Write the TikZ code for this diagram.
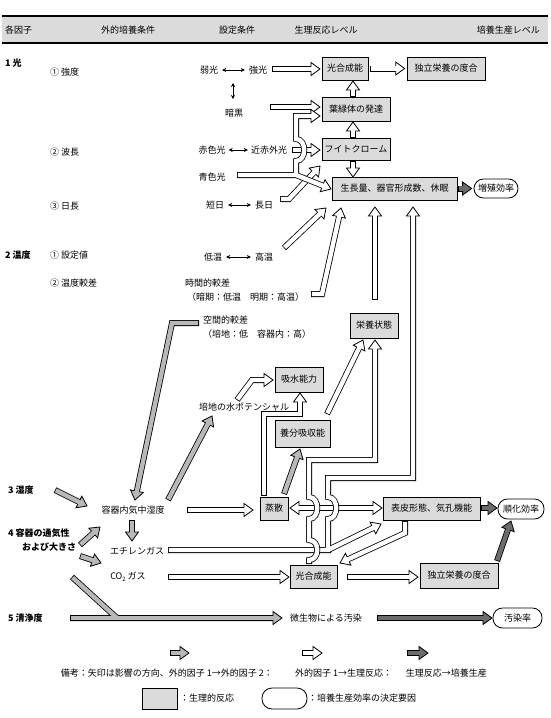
\documentclass[tikz,border=0pt]{standalone}
\usepackage{fontspec}
\newfontfamily\jp{Noto Sans CJK JP}
\usetikzlibrary{calc,arrows.meta}
\definecolor{boxgray}{gray}{0.86}
\definecolor{agray}{gray}{0.72}
\definecolor{adark}{gray}{0.42}
\tikzset{
  bo/.style={line width=6pt, draw=black, line join=miter, line cap=butt},
  bi/.style={line width=4.4pt, line join=miter, line cap=butt},
  pbox/.style={draw, line width=0.7pt, fill=boxgray, minimum height=23pt},
  stad/.style={draw, line width=0.8pt, fill=white, minimum height=20pt, rounded corners=9.5pt},
  lbl/.style={anchor=west},
  blab/.style={anchor=west, font=\jp\bfseries\fontsize{9}{11}\selectfont},
  ta/.style={line width=0.6pt, {Stealth[length=4pt,width=4pt]}-{Stealth[length=4pt,width=4pt]}},
}
\newcommand\hc[3]{%
  \coordinate (#3B) at ($#2!9pt!#1$);
  \coordinate (#3I) at ($(#3B)!1.2pt!#2$);
  \coordinate (#3L) at ($(#3B)!6.5pt!90:#2$);
  \coordinate (#3R) at ($(#3B)!6.5pt!-90:#2$);}
\newcommand\hd[3]{\filldraw[fill=#1,draw=black,line width=0.8pt,line join=miter] (#3L) -- #2 -- (#3R) -- cycle;}
\newcommand\barr[4][white]{%
  \hc{#3}{#4}{q}%
  \draw[bo] #2 -- (qB);
  \hd{#1}{#4}{q}%
  \draw[bi,#1,shorten <=0.8pt] #2 -- (qI);}
\newcommand\sarr[3][white]{\barr[#1]{#2}{#2}{#3}}
\newcommand\darr[3][white]{%
  \hc{#2}{#3}{da}\hc{#3}{#2}{db}%
  \draw[bo] (daB) -- (dbB);
  \hd{#1}{#3}{da}\hd{#1}{#2}{db}%
  \draw[bi,#1] (daI) -- (dbI);}
\begin{document}
\begin{tikzpicture}[x=1pt,y=-1pt, every node/.style={font=\jp\fontsize{9}{11}\selectfont, inner sep=0pt}]
\useasboundingbox (0,0) rectangle (550,718);
\fill[white] (0,0) rectangle (550,718);
% header
\fill[boxgray] (2,16) rectangle (548,43);
\draw[line width=1.4pt] (2,16) -- (548,16) (2,43) -- (548,43);
\node[lbl] (h1) at (5,30) {各因子};
\node (h2) at (128,30) {外的培養条件};
\node (h3) at (237,30) {設定条件};
\node (h4) at (326,30) {生理反応レベル};
\node[anchor=east] (h5) at (540,30) {培養生産レベル};
% factors
\node[blab] (f1) at (5,63) {1 光};
\node[lbl] (f1a) at (50,72) {① 強度};
\node[lbl] (f1b) at (50,152) {② 波長};
\node[lbl] (f1c) at (50,206) {③ 日長};
\node[blab] (f2) at (5,255) {2 温度};
\node[lbl] (f2a) at (50,255) {① 設定値};
\node[lbl] (f2b) at (50,283) {② 温度較差};
\node[blab] (f3) at (8,490) {3 湿度};
\node[blab] (f4) at (8,533) {4 容器の通気性};
\node[blab] (f4b) at (22,547) {および大きさ};
\node[blab] (f5) at (8,618) {5 清浄度};
% settings
\node (jk) at (209,70) {弱光};
\node (kk) at (258,70) {強光};
\draw[ta, shorten <=4pt, shorten >=4pt] (jk) -- (kk);
\node (an) at (234,113) {暗黒};
\draw[ta] (233,83) -- (233,99);
\node (sk) at (212,150) {赤色光};
\node (ks) at (269,150) {近赤外光};
\draw[ta, shorten <=3pt, shorten >=3pt] (sk) -- (ks);
\node (ao) at (212,177) {青色光};
\node (tj) at (215,205) {短日};
\node (cj) at (264,205) {長日};
\draw[ta, shorten <=4pt, shorten >=4pt] (tj) -- (cj);
\node (tm1) at (213,257) {低温};
\node (tm2) at (264,257) {高温};
\draw[ta, shorten <=4pt, shorten >=4pt] (tm1) -- (tm2);
\node[lbl] (jk1) at (185,283) {時間的較差};
\node[lbl] (jk2) at (187,297) {（暗期：低温　明期：高温）};
\node[lbl] (kk1) at (203,320) {空間的較差};
\node[lbl] (kk2) at (203,334) {（培地：低　容器内：高）};
\node (yk) at (133,510) {容器内気中湿度};
\node (et) at (137,551) {エチレンガス};
\node (co) at (128,577) {CO\raisebox{-0.35ex}{\fontsize{6}{6}\selectfont 2} ガス};
\node (bc) at (244,407) {培地の水ポテンシャル};
\node (bs) at (326,618) {微生物による汚染};
% physiological boxes
\node[pbox, minimum width=46pt] (kg1) at (345,68.5) {光合成能};
\node[pbox, minimum width=78pt] (dr1) at (446,68.5) {独立栄養の度合};
\node[pbox, minimum width=68pt, minimum height=24pt] (yr) at (356,109) {葉緑体の発達};
\node[pbox, minimum width=68pt, minimum height=22pt] (ph) at (356,149) {フイトクローム};
\node[pbox, minimum width=125pt] (sc) at (394.5,188.5) {生長量、器官形成数、休眠};
\node[stad, minimum width=44pt, minimum height=19pt] (zs) at (496,188.5) {増殖効率};
\node[pbox, minimum width=48pt, minimum height=25pt] (ey) at (374,325.5) {栄養状態};
\node[pbox, minimum width=48pt, minimum height=25pt] (ks2) at (299,379.5) {吸水能力};
\node[pbox, minimum width=55pt, minimum height=27pt] (yb) at (302.5,433.5) {養分吸収能};
\node[pbox, minimum width=28pt] (js) at (274,508.5) {蒸散};
\node[pbox, minimum width=97pt] (hk) at (431.5,508.5) {表皮形態、気孔機能};
\node[pbox, minimum width=47pt] (kg2) at (313.5,576.5) {光合成能};
\node[pbox, minimum width=78pt, minimum height=25pt] (dr2) at (459,575.5) {独立栄養の度合};
\node[stad, minimum width=46pt] (jc) at (521,509) {順化効率};
\node[stad, minimum width=49pt] (os) at (517.5,618) {汚染率};
% ---- arrows: light
\sarr{(272,69)}{(320,69)}
\sarr{([xshift=2pt]kg1.east)}{([xshift=-2pt]dr1.west)}
\sarr{(353,97)}{(353,81)}
\sarr{(353,138)}{(353,122)}
\sarr{(353,161)}{(353,177)}
\sarr{(270,107)}{(320,107)}
\sarr{(292,150)}{(320,150)}
\barr{(280,199) -- (289,199)}{(289,199)}{(320,166)}
% blue light, branching
\hc{(296,175)}{(331,189)}{ba}
\hc{(296,116)}{(320,116)}{bb}
\draw[bo] (237,175) -- (296,175) -- (baB);
\draw[bo] (296,175) -- (296,161) .. controls (307,161) and (307,139) .. (296,139) -- (296,116) -- (bbB);
\hd{white}{(331,189)}{ba}\hd{white}{(320,116)}{bb}
\draw[bi,white,shorten <=0.8pt] (237,175) -- (296,175) -- (baI);
\draw[bi,white] (296,175) -- (296,161) .. controls (307,161) and (307,139) .. (296,139) -- (296,116) -- (bbI);
% temperature
\sarr{(284,248)}{(326,208)}
\barr{(311,294) -- (322,294)}{(322,294)}{(341,208)}
\sarr{(375,300)}{(375,207)}
\sarr[adark]{([xshift=1pt]sc.east)}{([xshift=-2pt]zs.west)}
% ---- lower
\barr[agray]{(199,323) -- (172,323)}{(172,323)}{(135,500)}
\sarr[agray]{(168,500)}{(212,416)}
\sarr[agray]{(55,490)}{(87,506)}
\sarr[agray]{(80,545)}{(100,527)}
\sarr[agray]{(80,556)}{(101,563)}
\sarr[agray]{(132,520)}{(132,541)}
\sarr{(187,510)}{(253,510)}
\barr{(237,400) -- (252,380)}{(252,380)}{(273,380)}
\barr{(264,496) -- (264,414) -- (300,414)}{(300,414)}{(300,393)}
\sarr[agray]{(284,494)}{(300,449)}
\sarr{(327,414)}{(363,340)}
\darr{(290,508)}{(382,508)}
\sarr{(168,577)}{(289,577)}
\sarr{(347,577)}{(418,577)}
% ethylene, branching
\hc{(413,478)}{(413,207)}{ea}
\hc{(328,550)}{(381,524)}{eb}
\draw[bo] (168,550) -- (328,550) -- (328,519) .. controls (339,519) and (339,497) .. (328,497) -- (328,478) -- (413,478) -- (eaB);
\draw[bo] (328,550) -- (ebB);
\hd{white}{(413,207)}{ea}\hd{white}{(381,524)}{eb}
\draw[bi,white,shorten <=0.8pt] (168,550) -- (328,550) -- (328,519) .. controls (339,519) and (339,497) .. (328,497) -- (328,478) -- (413,478) -- (eaI);
\draw[bi,white] (328,550) -- (ebI);
% photosynthesis -> nutrition, with bridges
\barr{(309,564) -- (309,560) .. controls (320,560) and (320,540) .. (309,540) -- (309,519) .. controls (320,519) and (320,497) .. (309,497) -- (309,460) -- (375,460)}{(375,460)}{(375,340)}
\barr{(405,521) -- (405,533)}{(405,533)}{(340,563)}
% dark
\sarr[adark]{(481,508)}{(497,508)}
\sarr[adark]{(497,561)}{(511,521)}
\sarr[adark]{(377,618)}{(492,618)}
% cleanliness, merging
\hc{(117,618)}{(282,618)}{c}
\draw[bo] (70,618) -- (cB) (72,577) -- (117,618);
\hd{agray}{(282,618)}{c}
\draw[bi,agray,shorten <=0.8pt] (70,618) -- (cI);
\draw[bi,agray,shorten <=0.8pt] (72,577) -- (117,618);
% legend
\sarr[agray]{(170,653)}{(189,653)}
\sarr{(302,653)}{(322,653)}
\sarr[adark]{(407,653)}{(428,653)}
\node[anchor=east] (l1) at (273,673) {備考：矢印は影響の方向、外的因子 1→外的因子 2：};
\node[lbl] (l2) at (295,673) {外的因子 1→生理反応：};
\node[anchor=east] (l3) at (487,673) {生理反応→培養生産};
\node[pbox, minimum width=35pt, minimum height=21pt] (lb) at (159.5,698.5) {};
\node[lbl] (lbt) at (180,698) {：生理的反応};
\node[stad, minimum width=45pt, minimum height=21pt, rounded corners=10pt] (ls) at (284.5,698.5) {};
\node[lbl] (lst) at (308,698) {：培養生産効率の決定要因};
\end{tikzpicture}
\end{document}
